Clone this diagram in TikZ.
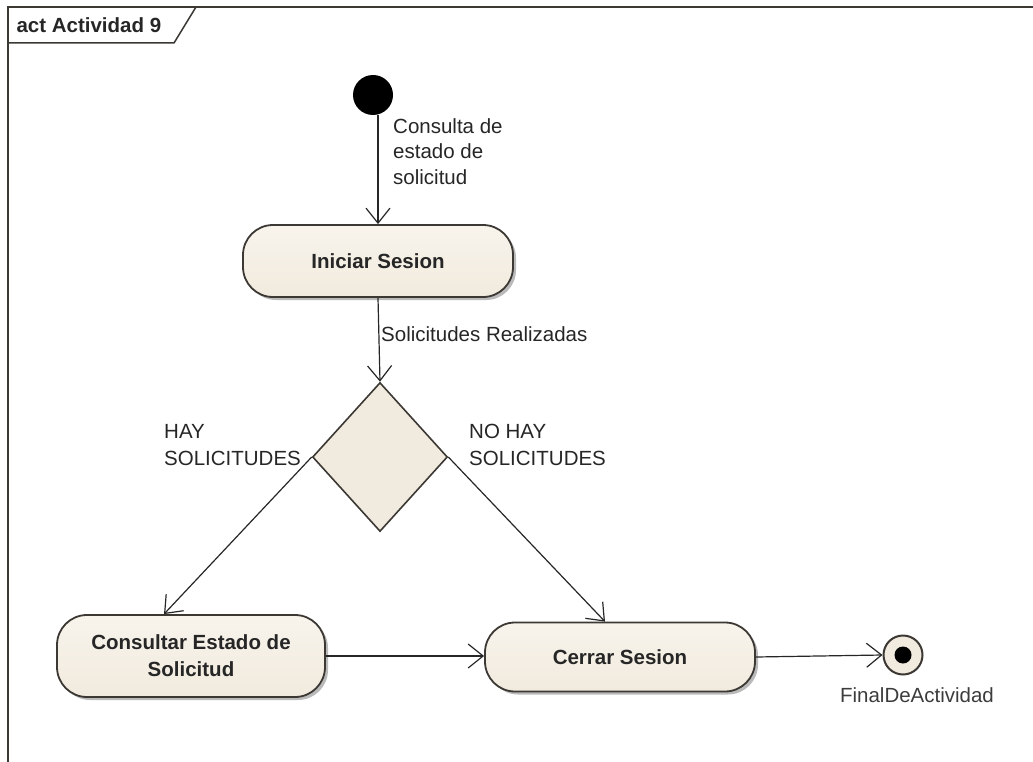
\documentclass[tikz,border=0pt]{standalone}
\usepackage{fontspec}
\setmainfont{Liberation Sans}
\usetikzlibrary{arrows.meta,shapes.geometric,shadows,calc}
\definecolor{ink}{RGB}{38,38,38}
\definecolor{edge}{RGB}{60,56,52}
\definecolor{cream}{RGB}{241,234,222}
\definecolor{creamhi}{RGB}{248,244,236}
\tikzset{
  act/.style={draw=edge, line width=1.8pt, rounded corners=30pt,
    top color=creamhi, bottom color=cream, align=center,
    font=\fontsize{20.5}{27}\selectfont\bfseries, text=ink,
    drop shadow={shadow xshift=3pt, shadow yshift=-3pt, fill=black!45, opacity=0.6}},
  decision/.style={diamond, draw=edge, line width=1.6pt, fill=cream, aspect=0.9,
    inner sep=0pt},
  flow/.style={draw=ink, line width=1.2pt,
    -{Straight Barb[length=15pt,width=24pt,line width=1.2pt]}},
  lbl/.style={font=\fontsize{20.5}{27}\selectfont, text=ink, align=left, inner sep=0pt},
}
\begin{document}
\begin{tikzpicture}[x=1pt,y=-1pt]
\useasboundingbox (0,0) rectangle (1033,762);
% frame and its title tab
\draw[edge, line width=1.8pt] (8,762) -- (8,7) -- (1033,7);
\draw[edge, line width=1.5pt] (8,43) -- (174,43) -- (196,7);
\node[anchor=west, font=\fontsize{20.5}{24}\selectfont\bfseries, text=ink] (title) at (13,25) {act Actividad 9};

% initial and final nodes
\node[circle, fill=black, minimum size=40pt, inner sep=0pt] (start) at (373,95) {};
\node[circle, draw=edge, line width=2pt, fill=cream, minimum size=39pt, inner sep=0pt] (finish) at (903,655) {};
\node[circle, fill=black, minimum size=17pt, inner sep=0pt] (finishdot) at (finish) {};

% actions
\node[act, minimum width=270pt, minimum height=72pt] (iniciar) at (378,261) {Iniciar Sesion};
\node[act, minimum width=268pt, minimum height=82pt] (consultar) at (191,656) {Consultar Estado de\\Solicitud};
\node[act, minimum width=270pt, minimum height=69pt] (cerrar) at (620,657) {Cerrar Sesion};

% decision
\node[decision, minimum width=135pt, minimum height=149pt] (dec) at (380,457) {};

% connectors
\draw[flow] (start.south -| iniciar.north) -- (iniciar.north);
\draw[flow] (iniciar.south) -- (dec.north);
\draw[flow] (dec.west) -- ($(consultar.north)+(-27,0)$);
\draw[flow] (dec.east) -- ($(cerrar.north)+(-15,0)$);
\draw[flow] (consultar.east) -- (consultar.east -| cerrar.west);
\draw[flow] (cerrar.east) -- (finish.west);

% guard and flow labels
\node[lbl, anchor=north west, font=\fontsize{20.5}{25.5}\selectfont] (l1) at (393,118) {Consulta de\\estado de\\solicitud};
\node[lbl, anchor=west] (l2) at (381,334) {Solicitudes Realizadas};
\node[lbl, anchor=west] (l3) at (164,445) {HAY\\SOLICITUDES};
\node[lbl, anchor=west] (l4) at (469,445) {NO HAY\\SOLICITUDES};
\node[lbl, text=ink!90] (l5) at (917,695) {FinalDeActividad};
\end{tikzpicture}
\end{document}
